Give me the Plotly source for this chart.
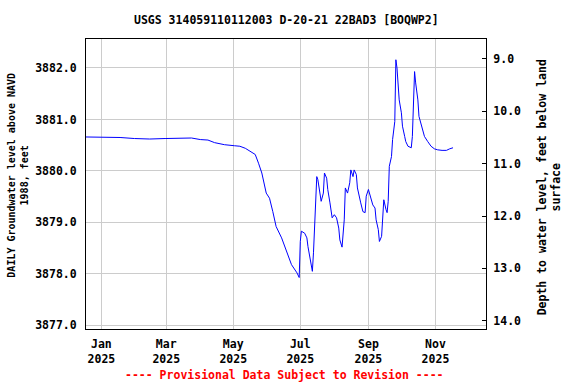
import plotly.graph_objects as go

# ---- data ----
dates = [
    "2024-12-18", "2024-12-31", "2025-01-18", "2025-01-31", "2025-02-14", "2025-02-28",
    "2025-03-13", "2025-03-24", "2025-04-01", "2025-04-08", "2025-04-14", "2025-04-23",
    "2025-05-02", "2025-05-07", "2025-05-12", "2025-05-16", "2025-05-21", "2025-05-24",
    "2025-05-27", "2025-05-31", "2025-06-03", "2025-06-06", "2025-06-09", "2025-06-14",
    "2025-06-19", "2025-06-23", "2025-06-28", "2025-06-30", "2025-07-01", "2025-07-02",
    "2025-07-05", "2025-07-07", "2025-07-08", "2025-07-10", "2025-07-12", "2025-07-13",
    "2025-07-15", "2025-07-16", "2025-07-17", "2025-07-19", "2025-07-20", "2025-07-22",
    "2025-07-23", "2025-07-25", "2025-07-26", "2025-07-28", "2025-07-30", "2025-08-01",
    "2025-08-03", "2025-08-05", "2025-08-06", "2025-08-08", "2025-08-10", "2025-08-11",
    "2025-08-13", "2025-08-15", "2025-08-16", "2025-08-18", "2025-08-19", "2025-08-21",
    "2025-08-22", "2025-08-25", "2025-08-27", "2025-08-29", "2025-08-30", "2025-09-01",
    "2025-09-03", "2025-09-05", "2025-09-07", "2025-09-08", "2025-09-10", "2025-09-11",
    "2025-09-13", "2025-09-14", "2025-09-15", "2025-09-17", "2025-09-18", "2025-09-19",
    "2025-09-20", "2025-09-22", "2025-09-23", "2025-09-25", "2025-09-26", "2025-09-27",
    "2025-09-28", "2025-09-29", "2025-10-01", "2025-10-02", "2025-10-04", "2025-10-05",
    "2025-10-07", "2025-10-10", "2025-10-11", "2025-10-12", "2025-10-13", "2025-10-14",
    "2025-10-16", "2025-10-17", "2025-10-20", "2025-10-22", "2025-10-25", "2025-10-28",
    "2025-10-31", "2025-11-03", "2025-11-07", "2025-11-11", "2025-11-14", "2025-11-17",
]
levels = [
    3880.66, 3880.66, 3880.65, 3880.63, 3880.62, 3880.63,
    3880.64, 3880.64, 3880.61, 3880.60, 3880.55, 3880.51,
    3880.49, 3880.48, 3880.44, 3880.38, 3880.32, 3880.15,
    3879.96, 3879.57, 3879.47, 3879.21, 3878.92, 3878.70,
    3878.41, 3878.18, 3878.02, 3877.93, 3878.63, 3878.83,
    3878.79, 3878.70, 3878.53, 3878.31, 3878.05, 3878.41,
    3879.25, 3879.89, 3879.83, 3879.57, 3879.41, 3879.57,
    3879.96, 3879.86, 3879.64, 3879.38, 3879.09, 3879.15,
    3879.09, 3878.89, 3878.66, 3878.52, 3879.05, 3879.67,
    3879.57, 3879.77, 3880.02, 3879.89, 3880.02, 3879.93,
    3879.67, 3879.38, 3879.21, 3879.19, 3879.51, 3879.64,
    3879.47, 3879.34, 3879.28, 3879.05, 3878.86, 3878.63,
    3878.73, 3879.18, 3879.44, 3879.25, 3879.19, 3879.41,
    3880.09, 3880.28, 3880.61, 3880.96, 3882.16, 3882.00,
    3881.74, 3881.38, 3881.13, 3880.87, 3880.67, 3880.57,
    3880.48, 3880.45, 3880.67, 3881.38, 3881.93, 3881.71,
    3881.38, 3881.06, 3880.80, 3880.67, 3880.57, 3880.48,
    3880.43, 3880.41, 3880.40, 3880.40, 3880.43, 3880.45,
]
land_surface = 3891.15  # depth = land_surface - level

title_text = "USGS 314059110112003 D-20-21 22BAD3 [BOQWP2]"
left_title = "DAILY Groundwater level above NAVD<br>1988, feet"
right_title = "Depth to water level, feet below land<br>surface"
footer = "---- Provisional Data Subject to Revision ----"

x_range = ["2024-12-18", "2025-12-17"]
y_range = [3876.93, 3882.563]
y2_range = [14.159, 8.618]

FONT = "DejaVu Sans Mono"

fig = go.Figure()
fig.add_trace(go.Scatter(
    x=dates, y=levels, mode="lines",
    line=dict(color="#0000ff", width=1),
    showlegend=False, hoverinfo="x+y",
))
fig.add_trace(go.Scatter(
    x=dates, y=[land_surface - v for v in levels], mode="lines",
    line=dict(color="rgba(0,0,0,0)", width=0),
    yaxis="y2", showlegend=False, hoverinfo="skip",
))

fig.update_layout(
    width=576, height=384,
    margin=dict(l=85.7, r=90, t=39.3, b=54.7, autoexpand=False),
    paper_bgcolor="white", plot_bgcolor="white",
    font=dict(family=FONT, size=11.5, color="black", weight="bold"),
    xaxis=dict(
        range=x_range, type="date",
        tick0="2025-01-01", dtick="M2", tickformat="%b<br>%Y",
        showgrid=True, gridcolor="#cccccc", gridwidth=1,
        showline=True, linecolor="black", linewidth=1, mirror=True,
        ticks="", ticklabelstandoff=4,
        tickfont=dict(family=FONT, size=11.5, weight="bold"),
        zeroline=False,
    ),
    yaxis=dict(
        range=y_range, dtick=1, tick0=3877, tickformat=".1f",
        showgrid=True, gridcolor="#cccccc", gridwidth=1,
        showline=True, linecolor="black", linewidth=1, mirror=True,
        ticks="", ticklabelstandoff=6,
        tickfont=dict(family=FONT, size=11.5, weight="bold"),
        zeroline=False,
    ),
    yaxis2=dict(
        range=y2_range, dtick=1, tick0=9, tickformat=".1f",
        overlaying="y", side="right", anchor="x",
        showgrid=False, showline=True, linecolor="black", linewidth=1,
        ticks="inside", ticklen=4, tickcolor="black",
        ticklabelstandoff=4,
        tickfont=dict(family=FONT, size=11.5, weight="bold"),
        zeroline=False,
    ),
    showlegend=False,
)

fig.add_annotation(
    text=title_text, xref="paper", yref="paper", x=0.5, y=1 + (39.3 - 20) / 290,
    showarrow=False, xanchor="center", yanchor="middle",
    font=dict(family=FONT, size=11.5, weight="bold", color="black"),
)
fig.add_annotation(
    text=left_title, xref="paper", yref="paper", x=(18 - 85.7) / 400.3, y=0.53,
    showarrow=False, xanchor="center", yanchor="middle", textangle=-90,
    font=dict(family=FONT, size=10, weight="bold", color="black"),
)
fig.add_annotation(
    text=right_title, xref="paper", yref="paper", x=(549.5 - 85.7) / 400.3, y=0.49,
    showarrow=False, xanchor="center", yanchor="middle", textangle=-90,
    font=dict(family=FONT, size=11.5, weight="bold", color="black"),
)
fig.add_annotation(
    text=footer, xref="paper", yref="paper", x=(284.5 - 85.7) / 400.3,
    y=1 - (375 - 39.3) / 290,
    showarrow=False, xanchor="center", yanchor="middle",
    font=dict(family=FONT, size=11.5, weight="bold", color="red"),
)

fig.write_html(
    "out.html",
    config={"displayModeBar": False},
    post_script="document.body.style.margin='0';document.body.style.overflow='hidden';",
)
